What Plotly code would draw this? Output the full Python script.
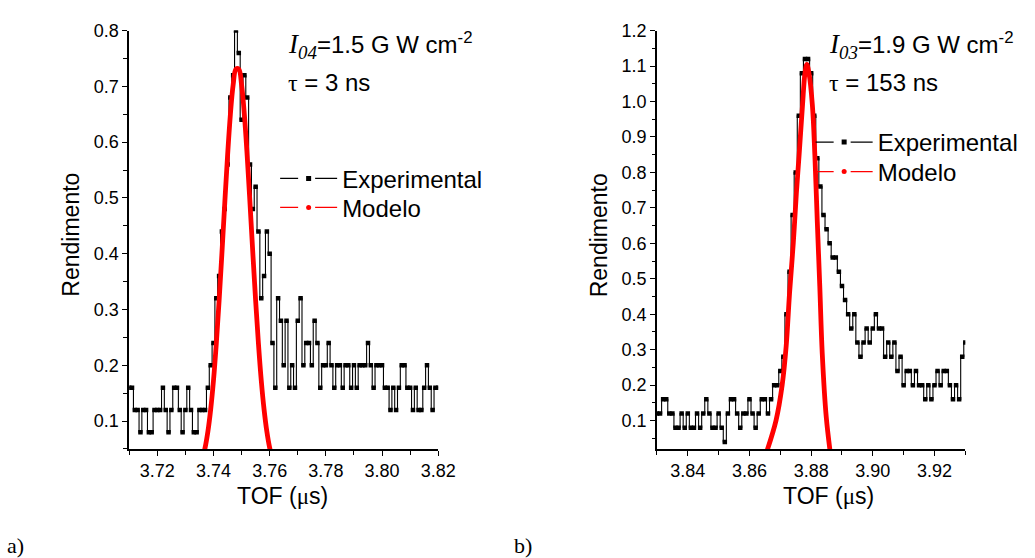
import plotly.graph_objects as go

# ---- panel a) I04 = 1.5 GW/cm2, tau = 3 ns ----
tof_a = [3.710, 3.711, 3.712, 3.713, 3.714, 3.715, 3.716, 3.717, 3.718, 3.719,
         3.720, 3.721, 3.722, 3.723, 3.724, 3.725, 3.726, 3.727, 3.728, 3.729,
         3.730, 3.731, 3.732, 3.733, 3.734, 3.735, 3.736, 3.737, 3.738, 3.739,
         3.740, 3.741, 3.742, 3.743, 3.744, 3.745, 3.746, 3.747, 3.748, 3.749,
         3.750, 3.751, 3.752, 3.753, 3.754, 3.755, 3.756, 3.757, 3.758, 3.759,
         3.760, 3.761, 3.762, 3.763, 3.764, 3.765, 3.766, 3.767, 3.768, 3.769,
         3.770, 3.771, 3.772, 3.773, 3.774, 3.775, 3.776, 3.777, 3.778, 3.779,
         3.780, 3.781, 3.782, 3.783, 3.784, 3.785, 3.786, 3.787, 3.788, 3.789,
         3.790, 3.791, 3.792, 3.793, 3.794, 3.795, 3.796, 3.797, 3.798, 3.799,
         3.800, 3.801, 3.802, 3.803, 3.804, 3.805, 3.806, 3.807, 3.808, 3.809,
         3.810, 3.811, 3.812, 3.813, 3.814, 3.815, 3.816, 3.817, 3.818, 3.819,
         3.820]
yield_a = [0.16, 0.16, 0.12, 0.12, 0.08, 0.12, 0.12, 0.08, 0.08, 0.12,
           0.12, 0.12, 0.16, 0.12, 0.08, 0.12, 0.16, 0.16, 0.12, 0.08,
           0.12, 0.16, 0.12, 0.08, 0.08, 0.12, 0.12, 0.12, 0.16, 0.20,
           0.24, 0.32, 0.36, 0.44, 0.48, 0.56, 0.68, 0.72, 0.80, 0.76,
           0.64, 0.72, 0.68, 0.56, 0.48, 0.52, 0.44, 0.32, 0.36, 0.44,
           0.40, 0.24, 0.16, 0.32, 0.28, 0.20, 0.28, 0.16, 0.20, 0.16,
           0.28, 0.32, 0.20, 0.24, 0.24, 0.20, 0.28, 0.24, 0.16, 0.20,
           0.20, 0.24, 0.20, 0.16, 0.20, 0.20, 0.16, 0.20, 0.20, 0.16,
           0.20, 0.16, 0.20, 0.20, 0.20, 0.24, 0.20, 0.16, 0.20, 0.20,
           0.20, 0.16, 0.16, 0.12, 0.16, 0.12, 0.16, 0.20, 0.20, 0.16,
           0.16, 0.12, 0.16, 0.12, 0.12, 0.16, 0.20, 0.16, 0.12, 0.16,
           0.16]
model_tof_a = [3.736, 3.737, 3.738, 3.739, 3.740, 3.741, 3.742, 3.743, 3.744,
               3.745, 3.746, 3.747, 3.748, 3.749, 3.750, 3.751, 3.752, 3.753,
               3.754, 3.755, 3.756, 3.757, 3.758, 3.759, 3.760, 3.761]
model_a = [0.033, 0.052, 0.081, 0.121, 0.173, 0.239, 0.316, 0.401, 0.490,
           0.575, 0.649, 0.703, 0.731, 0.731, 0.703, 0.649, 0.575, 0.490,
           0.401, 0.316, 0.239, 0.173, 0.121, 0.081, 0.052, 0.033]

# ---- panel b) I03 = 1.9 GW/cm2, tau = 153 ns ----
tof_b = [3.830, 3.831, 3.832, 3.833, 3.834, 3.835, 3.836, 3.837, 3.838, 3.839,
         3.840, 3.841, 3.842, 3.843, 3.844, 3.845, 3.846, 3.847, 3.848, 3.849,
         3.850, 3.851, 3.852, 3.853, 3.854, 3.855, 3.856, 3.857, 3.858, 3.859,
         3.860, 3.861, 3.862, 3.863, 3.864, 3.865, 3.866, 3.867, 3.868, 3.869,
         3.870, 3.871, 3.872, 3.873, 3.874, 3.875, 3.876, 3.877, 3.878, 3.879,
         3.880, 3.881, 3.882, 3.883, 3.884, 3.885, 3.886, 3.887, 3.888, 3.889,
         3.890, 3.891, 3.892, 3.893, 3.894, 3.895, 3.896, 3.897, 3.898, 3.899,
         3.900, 3.901, 3.902, 3.903, 3.904, 3.905, 3.906, 3.907, 3.908, 3.909,
         3.910, 3.911, 3.912, 3.913, 3.914, 3.915, 3.916, 3.917, 3.918, 3.919,
         3.920, 3.921, 3.922, 3.923, 3.924, 3.925, 3.926, 3.927, 3.928, 3.929,
         3.930]
yield_b = [0.12, 0.12, 0.16, 0.16, 0.12, 0.12, 0.08, 0.08, 0.12, 0.08,
           0.12, 0.08, 0.08, 0.12, 0.08, 0.12, 0.16, 0.12, 0.08, 0.08,
           0.12, 0.08, 0.04, 0.12, 0.16, 0.16, 0.12, 0.08, 0.12, 0.12,
           0.16, 0.12, 0.08, 0.12, 0.16, 0.16, 0.12, 0.16, 0.20, 0.20,
           0.24, 0.28, 0.40, 0.52, 0.68, 0.80, 0.96, 1.08, 1.12, 1.12,
           1.08, 0.96, 0.84, 0.76, 0.68, 0.64, 0.60, 0.56, 0.56, 0.52,
           0.48, 0.44, 0.40, 0.36, 0.40, 0.32, 0.28, 0.32, 0.36, 0.32,
           0.36, 0.40, 0.36, 0.36, 0.28, 0.32, 0.28, 0.32, 0.24, 0.28,
           0.20, 0.24, 0.24, 0.20, 0.24, 0.20, 0.20, 0.16, 0.20, 0.16,
           0.20, 0.24, 0.20, 0.24, 0.24, 0.20, 0.16, 0.20, 0.16, 0.28,
           0.32]
model_tof_b = [3.8655, 3.8686, 3.8706, 3.8719, 3.8730, 3.8742, 3.8752, 3.8761,
               3.8772, 3.8780, 3.8786, 3.8793, 3.8804, 3.8812, 3.8820, 3.8828,
               3.8836, 3.8849, 3.8862]
model_b = [0.01, 0.10, 0.20, 0.31, 0.46, 0.60, 0.74, 0.85, 0.99, 1.08, 1.105,
           1.08, 0.99, 0.85, 0.66, 0.48, 0.29, 0.11, 0.01]

W, H = 1035, 558   # design size, positions below are pixels on this canvas
SANS = "Liberation Sans, Arial, sans-serif"
SERIF = "Liberation Serif, Times New Roman, serif"


def px_x(x):
    return x / W


def px_y(y):
    return 1 - y / H


fig = go.Figure()

panels = [
    ("x", "y", ("legend", "legend3"), tof_a, yield_a, model_tof_a, model_a),
    ("x2", "y2", ("legend2", "legend4"), tof_b, yield_b, model_tof_b, model_b),
]
for xa, ya, lg, tx, ty, mx, my in panels:
    fig.add_trace(go.Scatter(x=tx, y=ty, mode="lines+markers", xaxis=xa, yaxis=ya,
                             line=dict(color="black", width=1.1, shape="hvh"),
                             marker=dict(symbol="square", size=4.5, color="black"),
                             showlegend=False))
    fig.add_trace(go.Scatter(x=mx, y=my, mode="lines", xaxis=xa, yaxis=ya,
                             line=dict(color="red", width=4.8, shape="spline"),
                             showlegend=False))
    # legend-only entries, styled like the original key
    fig.add_trace(go.Scatter(x=[None], y=[None], mode="lines+markers", xaxis=xa, yaxis=ya,
                             name="Experimental", legend=lg[0],
                             line=dict(color="black", width=1.2, dash="18px,17px,60px"),
                             marker=dict(symbol="square", size=5, color="black")))
    fig.add_trace(go.Scatter(x=[None], y=[None], mode="lines+markers", xaxis=xa, yaxis=ya,
                             name="Modelo", legend=lg[1],
                             line=dict(color="red", width=1.2, dash="18px,17px,60px"),
                             marker=dict(symbol="circle", size=5, color="red")))

axis_common = dict(showline=True, linecolor="black", linewidth=1.5, ticks="outside",
                   ticklen=5, tickwidth=1, tickcolor="black", showgrid=False,
                   zeroline=False, tickfont=dict(size=18, family=SANS, color="black"))
ydom = [px_y(447), px_y(21)]


def legend_box(x, top):
    return dict(x=px_x(x), y=px_y(top), xanchor="left", yanchor="top",
                bgcolor="rgba(0,0,0,0)", borderwidth=0, itemwidth=57,
                font=dict(size=24, family=SANS), tracegroupgap=0)


fig.update_layout(
    autosize=True,
    margin=dict(l=0, r=0, t=0, b=0, pad=0),
    plot_bgcolor="white", paper_bgcolor="white",
    font=dict(family=SANS, size=18, color="black"),
    xaxis=dict(domain=[px_x(131.5), px_x(446)], range=[3.71, 3.82], dtick=0.02,
               tickformat=".2f", anchor="y",
               minor=dict(dtick=0.01, ticks="outside", ticklen=4, tickcolor="black"),
               **axis_common),
    yaxis=dict(domain=ydom, range=[0.05, 0.8], dtick=0.1, tickformat=".1f", anchor="x",
               minor=dict(dtick=0.05, ticks="outside", ticklen=4, tickcolor="black"),
               **axis_common),
    xaxis2=dict(domain=[px_x(668.6), px_x(982.4)], range=[3.83, 3.93], dtick=0.02,
                tickformat=".2f", anchor="y2",
                minor=dict(dtick=0.01, ticks="outside", ticklen=4, tickcolor="black"),
                **axis_common),
    yaxis2=dict(domain=ydom, range=[0.02, 1.2], dtick=0.1, tickformat=".1f", anchor="x2",
                minor=dict(dtick=0.05, ticks="outside", ticklen=3, tickcolor="black"),
                **axis_common),
    legend=legend_box(280, 149),
    legend3=legend_box(280, 178.5),
    legend2=legend_box(825, 112),
    legend4=legend_box(825, 142),
)

ann = []
# axis titles
for xc in (72, 610):
    ann.append(dict(text="Rendimento", x=px_x(xc), y=px_y(229), textangle=-90,
                    font=dict(size=23, family=SANS)))
for xc in (287, 843):
    ann.append(dict(text="TOF (<span style='font-family:%s'>μ</span>s)" % SERIF,
                    x=px_x(xc), y=px_y(495), font=dict(size=23, family=SANS)))
# panel letters
ann.append(dict(text="a)", x=px_x(16), y=px_y(545), font=dict(size=22, family=SERIF)))
ann.append(dict(text="b)", x=px_x(532), y=px_y(545), font=dict(size=22, family=SERIF)))
# conditions
conds = [(291, "04", "1.5", "3"), (842, "03", "1.9", "153")]
for x0, sub, inten, tau in conds:
    ann.append(dict(
        text="<span style='font-family:%s;font-size:27px'><i>I</i><sub><i>%s</i></sub></span>=%s G W cm<sup>-2</sup>"
             % (SERIF, sub, inten),
        x=px_x(x0), y=px_y(36), xanchor="left", font=dict(size=24, family=SANS)))
    ann.append(dict(
        text="<span style='font-family:%s'>τ</span> = %s ns" % (SERIF, tau),
        x=px_x(x0), y=px_y(74), xanchor="left", font=dict(size=24, family=SANS)))

for a in ann:
    a.update(xref="paper", yref="paper", showarrow=False)
    a.setdefault("xanchor", "center")
    a.setdefault("yanchor", "middle")
fig.update_layout(annotations=ann)

# let the plot fill the whole window, with no page margin or scrollbars
fill = ("document.body.style.margin='0';document.body.style.overflow='hidden';"
        "var gd=document.getElementById('{plot_id}');gd.style.position='fixed';"
        "gd.style.left='0px';gd.style.top='0px';gd.style.width='100vw';"
        "gd.style.height='100vh';Plotly.Plots.resize(gd);")
fig.write_html("out.html", config=dict(displayModeBar=False, responsive=True),
               default_width="100vw", default_height="100vh", post_script=fill)
